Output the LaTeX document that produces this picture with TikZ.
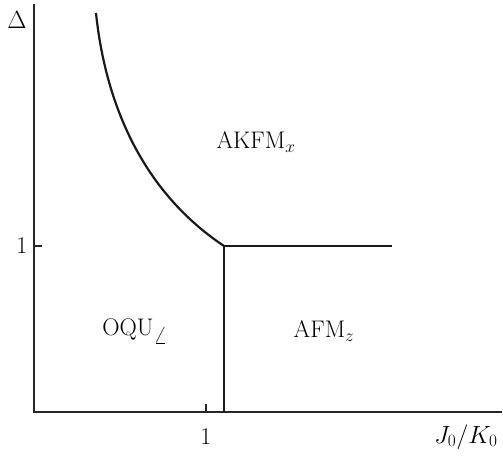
\documentclass[tikz,border=0pt]{standalone}
\begin{document}
\begin{tikzpicture}[x=1pt,y=-1pt,
  axis/.style={line width=1.3pt, draw=black!85},
  phase/.style={line width=2.2pt, draw=black!90},
  lbl/.style={inner sep=0pt, font=\fontsize{24}{28}\selectfont}]
\useasboundingbox (0,0) rectangle (503,457);
\coordinate (O) at (34,412);
\coordinate (ytop) at (34,4);
\coordinate (xend) at (502,412);
\draw[axis] (ytop) -- (O) -- (xend);
\coordinate (xt) at (206,412);
\coordinate (xt2) at (206,404);
\coordinate (yt) at (34,246);
\coordinate (yt2) at (42,246);
\draw[axis] (xt) -- (xt2);
\draw[axis] (yt) -- (yt2);
\coordinate (T) at (224,246);
\coordinate (Hend) at (392,246);
\coordinate (B) at (224,412);
\coordinate (C0) at (96,13);
\draw[phase] (Hend) -- (T) -- (B);
\draw[phase] (C0) .. controls (105,100) and (140,190) .. (T);
\node[lbl] (delta) at (17,20) {$\Delta$};
\node[lbl] (one_y) at (22,246) {1};
\node[lbl] (one_x) at (206,437) {1};
\node[lbl] (jk) at (466,437) {$J_0/K_0$};
\node[lbl] (akfm) at (256,142) {AKFM$_x$};
\node[lbl] (oqu) at (135,331) {OQU$_\angle$};
\node[lbl] (afm) at (324,331) {AFM$_z$};
\end{tikzpicture}
\end{document}
